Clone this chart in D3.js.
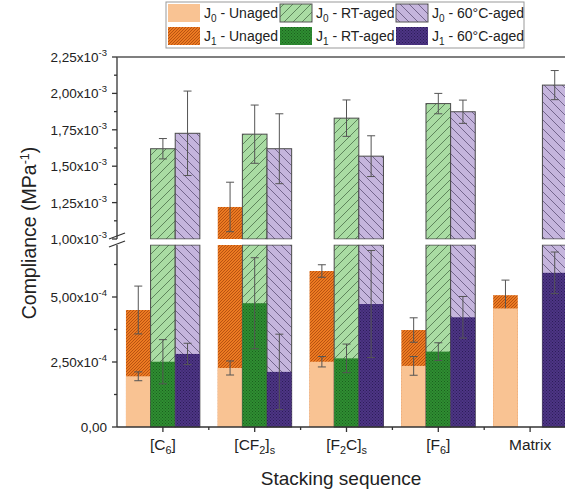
<!DOCTYPE html>
<html><head><meta charset="utf-8">
<script src="https://cdn.jsdelivr.net/npm/d3@7"></script>
<style>body{margin:0;background:#fff;overflow:hidden}text{font-family:"Liberation Sans",Arial,sans-serif}</style>
</head><body>
<script>
// ---- data ----
const categories = ["C6", "CF2s", "F2Cs", "F6", "Matrix"];
const tickLabels = ["[C_6]", "[CF_2]_s", "[F_2C]_s", "[F_6]", "Matrix"];
const j0Unaged    = [1.95e-4, 2.27e-4, 2.51e-4, 2.35e-4, 4.56e-4];
const j0UnagedErr = [0.17e-4, 0.27e-4, 0.20e-4, 0.36e-4, 0];
const j1Unaged    = [4.50e-4, 1.22e-3, 6.00e-4, 3.73e-4, 5.07e-4];
const j1UnagedErr = [0.92e-4, 0.17e-3, 0.24e-4, 0.47e-4, 0.58e-4];
const j0RT        = [1.62e-3, 1.72e-3, 1.83e-3, 1.93e-3, null];
const j0RTErr     = [0.07e-3, 0.20e-3, 0.125e-3, 0.07e-3, null];
const j1RT        = [2.51e-4, 4.76e-4, 2.64e-4, 2.90e-4, null];
const j1RTErr     = [0.85e-4, 1.75e-4, 0.55e-4, 0.34e-4, null];
const j060        = [1.726e-3, 1.62e-3, 1.569e-3, 1.874e-3, 2.057e-3];
const j060Err     = [0.29e-3, 0.24e-3, 0.14e-3, 0.08e-3, 0.10e-3];
const j160        = [2.81e-4, 2.12e-4, 4.73e-4, 4.22e-4, 5.93e-4];
const j160Err     = [0.41e-4, 1.45e-4, 2.06e-4, 0.80e-4, 0.80e-4];
const lowTicks  = [0, 2.5e-4, 5e-4];
const lowTickLabels = ["0,00", "2,50x10|-4", "5,00x10|-4"];
const highTicks = [1e-3, 1.25e-3, 1.5e-3, 1.75e-3, 2e-3, 2.25e-3];
const highTickLabels = ["1,00x10|-3", "1,25x10|-3", "1,50x10|-3", "1,75x10|-3", "2,00x10|-3", "2,25x10|-3"];
const groups = ["Unaged", "RT", "60"];
const legendItems = [
  {j: "0", t: " - Unaged", fill: "url(#pLO)", stroke: "none"},
  {j: "0", t: " - RT-aged", fill: "url(#pLG)", stroke: "#555"},
  {j: "0", t: " - 60°C-aged", fill: "url(#pLP)", stroke: "#555"},
  {j: "1", t: " - Unaged", fill: "url(#pDO)", stroke: "none"},
  {j: "1", t: " - RT-aged", fill: "url(#pDG)", stroke: "none"},
  {j: "1", t: " - 60°C-aged", fill: "url(#pDP)", stroke: "none"}
];

// ---- layout ----
const L = 117, R = 576, B = 427, lowTop = 245, highBot = 239, T = 57;
const svg = d3.select("body").append("svg").attr("width", 565).attr("height", 490);
const defs = svg.append("defs");

function hatch(id, bg, col, dir, s, sw) {
  const p = defs.append("pattern").attr("id", id).attr("patternUnits", "userSpaceOnUse")
    .attr("width", s).attr("height", s);
  p.append("rect").attr("width", s).attr("height", s).attr("fill", bg);
  const d = dir === "/" ? `M0,${s} L${s},0 M-1,1 L1,-1 M${s-1},${s+1} L${s+1},${s-1}`
                        : `M0,0 L${s},${s} M-1,${s-1} L1,${s+1} M${s-1},-1 L${s+1},1`;
  p.append("path").attr("d", d).attr("stroke", col).attr("stroke-width", sw);
}
function dots(id, bg, col, s, r) {
  const p = defs.append("pattern").attr("id", id).attr("patternUnits", "userSpaceOnUse")
    .attr("width", s).attr("height", s);
  p.append("rect").attr("width", s).attr("height", s).attr("fill", bg);
  p.append("rect").attr("x", 0).attr("y", 0).attr("width", r).attr("height", r).attr("fill", col);
  p.append("rect").attr("x", s/2).attr("y", s/2).attr("width", r).attr("height", r).attr("fill", col);
}
defs.append("pattern").attr("id", "pLO").attr("patternUnits", "userSpaceOnUse").attr("width", 4).attr("height", 4)
  .append("rect").attr("width", 4).attr("height", 4).attr("fill", "#F9C393");
hatch("pLG", "#A9DCA3", "#2b4a2b", "/", 9, 0.6);
hatch("pLP", "#C5B5DD", "#3a2f55", "\\", 9, 0.6);
hatch("pDO", "#EC7A22", "#A9480C", "/", 3, 0.8);
dots("pDG", "#2F8E32", "#1B5F1E", 3, 1);
dots("pDP", "#4D3585", "#2C1D57", 3, 1);

const yLow = d3.scaleLinear().domain([0, 7e-4]).range([B, lowTop]);
const yHigh = d3.scaleLinear().domain([1e-3, 2.25e-3]).range([highBot, T]);
function yPos(v) {
  if (v <= 7e-4) return yLow(v);
  if (v >= 1e-3) return yHigh(v);
  return (lowTop + highBot) / 2;
}
const x = d3.scaleBand().domain(categories).range([L, R]).padding(0);
const groupW = x.bandwidth() * 0.805;
const xs = d3.scaleBand().domain(groups).range([0, groupW]);
const g = svg.append("g");

function bar(cat, grp, v, fill, stroke) {
  if (v == null) return;
  const x0 = x(cat) + (x.bandwidth() - groupW) / 2 + xs(grp), w = xs.bandwidth();
  if (v <= 7e-4) {
    g.append("rect").attr("x", x0).attr("y", yLow(v)).attr("width", w).attr("height", B - yLow(v))
      .attr("fill", fill).attr("stroke", stroke).attr("stroke-width", 1);
  } else {
    g.append("rect").attr("x", x0).attr("y", lowTop).attr("width", w).attr("height", B - lowTop)
      .attr("fill", fill).attr("stroke", stroke).attr("stroke-width", 1);
    g.append("rect").attr("x", x0).attr("y", yHigh(v)).attr("width", w).attr("height", highBot - yHigh(v))
      .attr("fill", fill).attr("stroke", stroke).attr("stroke-width", 1);
  }
}
function err(cat, grp, v, e, col) {
  if (v == null || !e) return;
  const cx = x(cat) + (x.bandwidth() - groupW) / 2 + xs(grp) + xs.bandwidth() / 2;
  const y1 = yPos(v + e), y2 = yPos(v - e);
  g.append("line").attr("x1", cx).attr("x2", cx).attr("y1", y1).attr("y2", y2).attr("stroke", col).attr("stroke-width", 1);
  [y1, y2].forEach(yy => g.append("line").attr("x1", cx - 4).attr("x2", cx + 4).attr("y1", yy).attr("y2", yy)
    .attr("stroke", col).attr("stroke-width", 1));
}
const pairs = [
  {grp: "Unaged", a: j0Unaged, ae: j0UnagedErr, af: "url(#pLO)", as: "none", b: j1Unaged, be: j1UnagedErr, bf: "url(#pDO)", bs: "none"},
  {grp: "RT", a: j0RT, ae: j0RTErr, af: "url(#pLG)", as: "#4a4a4a", b: j1RT, be: j1RTErr, bf: "url(#pDG)", bs: "none"},
  {grp: "60", a: j060, ae: j060Err, af: "url(#pLP)", as: "#4a4a4a", b: j160, be: j160Err, bf: "url(#pDP)", bs: "none"}
];
categories.forEach((c, i) => {
  pairs.forEach(p => {
    const items = [
      {v: p.a[i], e: p.ae[i], f: p.af, s: p.as},
      {v: p.b[i], e: p.be[i], f: p.bf, s: p.bs}
    ].filter(d => d.v != null).sort((m, n) => n.v - m.v);
    items.forEach(d => { bar(c, p.grp, d.v, d.f, d.s); err(c, p.grp, d.v, d.e, "#555"); });
  });
});
// white gap of the break
svg.append("rect").attr("x", L + 1).attr("y", highBot + 0.5).attr("width", 565).attr("height", lowTop - highBot - 1).attr("fill", "#fff");

// ---- axes ----
const ax = svg.append("g").attr("stroke", "#333").attr("stroke-width", 1.3);
ax.append("line").attr("x1", L).attr("x2", L).attr("y1", B).attr("y2", lowTop);
ax.append("line").attr("x1", L).attr("x2", L).attr("y1", highBot).attr("y2", T);
ax.append("line").attr("x1", L).attr("x2", 565).attr("y1", B).attr("y2", B);
ax.append("line").attr("x1", L).attr("x2", 565).attr("y1", T).attr("y2", T).attr("stroke", "#555");
d3.range(0, 7e-4 + 1e-9, 1.25e-4).forEach((v, k) => {
  ax.append("line").attr("x1", L - (k % 2 === 0 ? 5 : 3)).attr("x2", L).attr("y1", yLow(v)).attr("y2", yLow(v));
});
d3.range(1e-3, 2.25e-3 + 1e-9, 1.25e-4).forEach((v, k) => {
  ax.append("line").attr("x1", L - (k % 2 === 0 ? 5 : 3)).attr("x2", L).attr("y1", yHigh(v)).attr("y2", yHigh(v));
});
categories.forEach((c, i) => {
  const cx = x(c) + x.bandwidth() / 2;
  ax.append("line").attr("x1", cx).attr("x2", cx).attr("y1", B).attr("y2", B + 5);
  ax.append("line").attr("x1", x(c) + x.bandwidth()).attr("x2", x(c) + x.bandwidth()).attr("y1", B).attr("y2", B + 3);
});
// break marks
[[236], [244]].forEach(([yy]) => {
  ax.append("line").attr("x1", L - 8).attr("x2", L + 8).attr("y1", yy + 3).attr("y2", yy - 3);
});

function yLabel(t, yy) {
  const parts = t.split("|");
  const tx = svg.append("text").attr("x", 107).attr("y", yy + 5).attr("text-anchor", "end")
    .attr("font-size", 13.5).attr("fill", "#222");
  tx.append("tspan").text(parts[0]);
  if (parts[1]) tx.append("tspan").attr("dy", -6).attr("font-size", 9.5).text(parts[1]);
}
lowTicks.forEach((v, i) => yLabel(lowTickLabels[i], yLow(v)));
highTicks.forEach((v, i) => yLabel(highTickLabels[i], yHigh(v)));

function subText(sel, str, fs) {
  const re = /_(.)/g; let last = 0, m; let shifted = false;
  while ((m = re.exec(str)) !== null) {
    if (m.index > last) sel.append("tspan").attr("dy", shifted ? -4 : 0).text(str.slice(last, m.index)), shifted = false;
    sel.append("tspan").attr("dy", 4).attr("font-size", fs * 0.7).text(m[1]);
    shifted = true; last = m.index + 2;
  }
  if (last < str.length) sel.append("tspan").attr("dy", shifted ? -4 : 0).text(str.slice(last));
}
categories.forEach((c, i) => {
  const t = svg.append("text").attr("x", x(c) + x.bandwidth() / 2).attr("y", 450).attr("text-anchor", "middle")
    .attr("font-size", 15.5).attr("fill", "#222");
  subText(t, tickLabels[i], 15.5);
});
svg.append("text").attr("x", 341).attr("y", 485).attr("text-anchor", "middle").attr("font-size", 19)
  .attr("fill", "#222").text("Stacking sequence");
const yl = svg.append("text").attr("transform", "translate(36,233) rotate(-90)").attr("text-anchor", "middle")
  .attr("font-size", 19.5).attr("fill", "#222");
yl.append("tspan").text("Compliance (MPa");
yl.append("tspan").attr("dy", -7).attr("font-size", 12.5).text("-1");
yl.append("tspan").attr("dy", 7).text(")");

// ---- legend ----
const lg = svg.append("g");
lg.append("rect").attr("x", 166).attr("y", 2).attr("width", 358).attr("height", 46).attr("fill", "#fff")
  .attr("stroke", "#999").attr("stroke-width", 1);
const colX = [168, 280, 396];
legendItems.forEach((d, i) => {
  const cx = colX[i % 3], cy = i < 3 ? 4 : 27;
  lg.append("rect").attr("x", cx).attr("y", cy).attr("width", 32).attr("height", 18).attr("fill", d.fill)
    .attr("stroke", d.stroke).attr("stroke-width", 1);
  const t = lg.append("text").attr("x", cx + 36).attr("y", cy + 14).attr("font-size", 14).attr("fill", "#222");
  t.append("tspan").text("J");
  t.append("tspan").attr("dy", 4).attr("font-size", 10).text(d.j);
  t.append("tspan").attr("dy", -4).text(d.t);
});
</script>
</body></html>
